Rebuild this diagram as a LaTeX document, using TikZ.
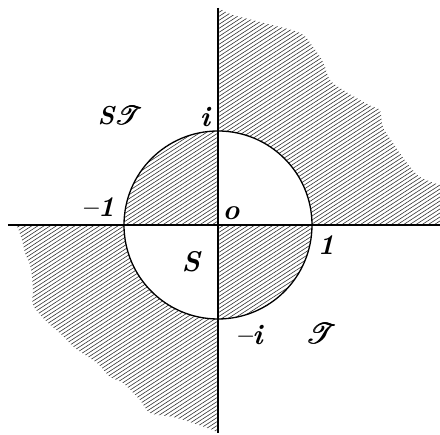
\documentclass[tikz,border=0pt]{standalone}
\usepackage{mathrsfs}
\newcommand{\mybig}[1]{\scalebox{1.65}{#1}}
\newcommand{\thickT}{\rlap{$\mathscr{T}$}\kern0.35pt\rlap{$\mathscr{T}$}\kern0.35pt$\mathscr{T}$}
\begin{document}
\begin{tikzpicture}[x=1pt,y=1pt,
  axis/.style={line width=1.2pt,black},
  rim/.style={line width=1.3pt,black},
  hatch/.style={line width=0.6pt,black!80},
  lab/.style={inner sep=0pt,font=\fontsize{17.28}{20}\selectfont\bfseries\itshape}]
\useasboundingbox (-218,-210) rectangle (222,225);
\coordinate (O) at (0,0);
\coordinate (top) at (0,217);
\coordinate (bot) at (0,-208);
\coordinate (lft) at (-210,0);
\coordinate (rgt) at (222,0);
% hatching
\begin{scope}
\clip (0,217) -- plot[smooth] coordinates {(4,215) (15,210) (42,203) (82,192) (95,178) (105,163) (112,145) (125,135) (142,125) (155,118) (162,115) (165,98) (175,82) (189,62) (202,48) (222,40)} -- (222,0) -- (94,0) arc[start angle=0,end angle=90,radius=94] -- cycle
  (0,0) -- (-94,0) arc[start angle=180,end angle=90,radius=94] -- cycle
  (0,0) -- (94,0) arc[start angle=0,end angle=-90,radius=94] -- cycle
  (-203,0) -- (-94,0) arc[start angle=180,end angle=270,radius=94] -- (0,-208) -- plot[smooth] coordinates {(-5,-205) (-25,-198) (-45,-192) (-68,-188) (-78,-175) (-95,-158) (-108,-152) (-121,-138) (-143,-123) (-156,-110) (-173,-95) (-185,-80) (-185,-65) (-186,-52) (-188,-40) (-193,-28) (-196,-15) (-200,-3)} -- cycle;
\foreach \c in {-360,-356,...,372} \draw[hatch] (-225,{\c-146}) -- (225,{\c+146});
\end{scope}
% axes and circle
\draw[axis] (top) -- (bot);
\draw[axis] (lft) -- (rgt);
\draw[rim] (O) circle[radius=94];
% labels
\node[lab] (ST) at (-98,109) {\scalebox{1.5}{S\thickT}};
\node[lab] (pi) at (-13,108) {\mybig{i}};
\node[lab] (m1) at (-120,18) {\mybig{\char"2013 1}};
\node[lab] (o) at (13,12) {\mybig{o}};
\node[lab] (p1) at (108,-20) {\mybig{1}};
\node[lab] (S) at (-27,-37) {\mybig{S}};
\node[lab] (mi) at (31,-110) {\mybig{\char"2013 i}};
\node[lab] (T) at (103,-109) {\mybig{\thickT}};
\end{tikzpicture}
\end{document}
